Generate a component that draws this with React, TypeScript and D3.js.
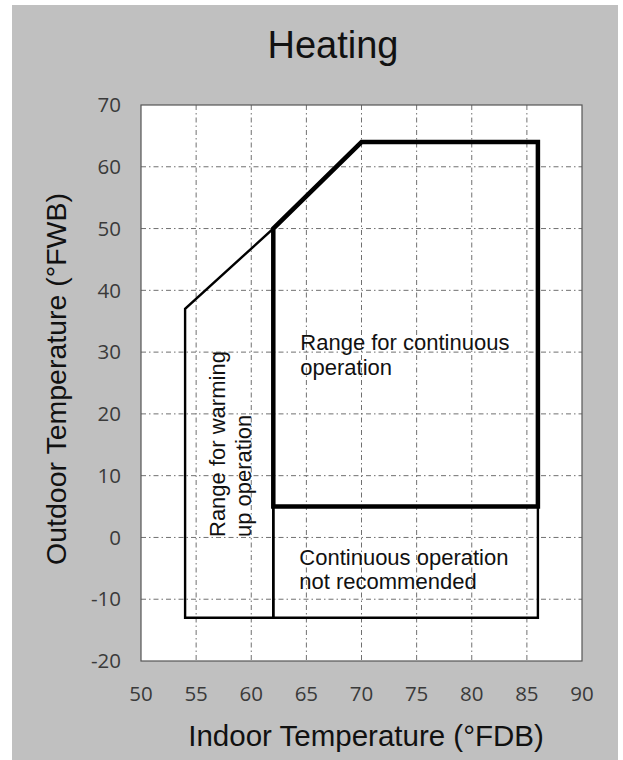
import React from "react";
import * as d3 from "d3";

const xTicks = [50, 55, 60, 65, 70, 75, 80, 85, 90];
const yTicks = [-20, -10, 0, 10, 20, 30, 40, 50, 60, 70];
const xDomain: [number, number] = [50, 90];
const yDomain: [number, number] = [-20, 70];

// Range for warming up operation (thin outline)
const warmingRange: [number, number][] = [
  [54, -13],
  [54, 37],
  [62, 50],
  [62, -13],
];
// Continuous operation not recommended (thin outline)
const notRecommended: [number, number][] = [
  [62, -13],
  [86, -13],
  [86, 5],
  [62, 5],
];
// Range for continuous operation (thick outline)
const continuousRange: [number, number][] = [
  [62, 5],
  [62, 50],
  [70, 64],
  [86, 64],
  [86, 5],
];

const W = 623;
const H = 760;
const plot = { left: 141, top: 105, right: 582, bottom: 661 };
const FONT = "'Liberation Sans', Arial, sans-serif";
const TICK_FONT = "'Open Sans', 'DejaVu Sans', sans-serif";

export default function App() {
  const x = d3.scaleLinear().domain(xDomain).range([plot.left, plot.right]);
  const y = d3.scaleLinear().domain(yDomain).range([plot.bottom, plot.top]);
  const line = d3
    .line<[number, number]>()
    .x((d) => x(d[0]))
    .y((d) => y(d[1]))
    .curve(d3.curveLinearClosed);

  return (
    <svg
      width={W}
      height={H}
      style={{ position: "absolute", left: 0, top: 0 }}
    >
      <rect x={0} y={0} width={W} height={H} fill="#ffffff" />
      <rect x={12} y={5} width={606} height={755} fill="#c0c0c0" />
      <rect
        x={plot.left}
        y={plot.top}
        width={plot.right - plot.left}
        height={plot.bottom - plot.top}
        fill="#ffffff"
      />
      {/* grid */}
      <g stroke="#707070" strokeWidth={1} strokeDasharray="5,3,1.5,3">
        {xTicks
          .filter((t) => t > xDomain[0] && t < xDomain[1])
          .map((t) => (
            <line key={"gx" + t} x1={x(t)} x2={x(t)} y1={plot.top} y2={plot.bottom} />
          ))}
        {yTicks
          .filter((t) => t > yDomain[0] && t < yDomain[1])
          .map((t) => (
            <line key={"gy" + t} x1={plot.left} x2={plot.right} y1={y(t)} y2={y(t)} />
          ))}
      </g>
      <rect
        x={plot.left}
        y={plot.top}
        width={plot.right - plot.left}
        height={plot.bottom - plot.top}
        fill="none"
        stroke="#555"
        strokeWidth={1.2}
      />
      {/* regions */}
      <path d={line(warmingRange) || ""} fill="none" stroke="#000" strokeWidth={2.4} strokeLinejoin="miter" />
      <path d={line(notRecommended) || ""} fill="none" stroke="#000" strokeWidth={2.4} />
      <path d={line(continuousRange) || ""} fill="none" stroke="#000" strokeWidth={4.5} strokeLinejoin="miter" />

      {/* tick labels */}
      <g fontFamily={TICK_FONT} fontSize={20.5} fill="#3a3a3a">
        {xTicks.map((t) => (
          <text key={"tx" + t} x={x(t)} y={701} textAnchor="middle">
            {t}
          </text>
        ))}
        {yTicks.map((t) => (
          <text key={"ty" + t} x={121} y={y(t)} dy="0.35em" textAnchor="end">
            {t}
          </text>
        ))}
      </g>

      {/* titles */}
      <text x={333} y={58} textAnchor="middle" fontFamily={FONT} fontSize={38} fill="#111">
        Heating
      </text>
      <text x={366} y={746} textAnchor="middle" fontFamily={FONT} fontSize={29.5} fill="#111">
        Indoor Temperature (°FDB)
      </text>
      <text
        transform={`translate(66,379) rotate(-90)`}
        textAnchor="middle"
        fontFamily={FONT}
        fontSize={28.5}
        fill="#111"
      >
        Outdoor Temperature (°FWB)
      </text>

      {/* region labels */}
      <g fontFamily={FONT} fontSize={22} fill="#111">
        <text x={x(62) + 27} y={350}>Range for continuous</text>
        <text x={x(62) + 27} y={375}>operation</text>
        <text x={x(62) + 26} y={565}>Continuous operation</text>
        <text x={x(62) + 26} y={589}>not recommended</text>
        <text transform={`translate(225,537) rotate(-90)`}>Range for warming</text>
        <text transform={`translate(251,537) rotate(-90)`}>up operation</text>
      </g>
    </svg>
  );
}
